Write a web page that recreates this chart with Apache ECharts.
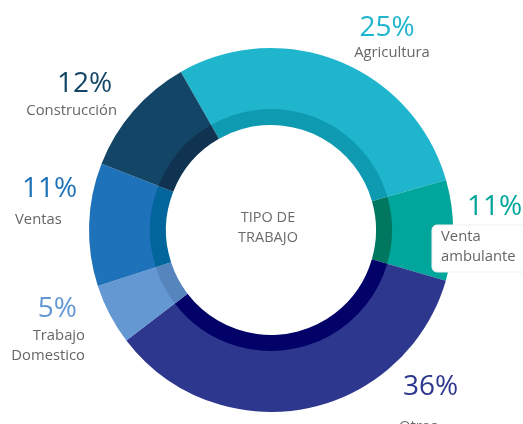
<!DOCTYPE html>
<html>
<head>
<meta charset="utf-8">
<script src="https://cdn.jsdelivr.net/npm/echarts@6/dist/echarts.min.js"></script>
<style>
html,body{margin:0;padding:0;background:#fff;}
#chart{width:523px;height:424px;}
</style>
</head>
<body>
<div id="chart"></div>
<script>
// Categories in clockwise drawing order (starting with Agricultura)
var categories = ['Agricultura', 'Venta ambulante', 'Otros', 'Trabajo Domestico', 'Ventas', 'Construcción'];
// Printed percentage labels
var percentLabels = ['25%', '11%', '36%', '5%', '11%', '12%'];
// Arc shares as drawn in the picture (percent of the full ring)
var arcShares = [28.8, 8.9, 35.1, 5.4, 10.9, 10.8];
// Centre text
var centerLines = ['TIPO DE', 'TRABAJO'];

// Styling (kept separate from the data)
var outerColors = ['#1fb6cd', '#00a59b', '#2e378e', '#6498d3', '#1e72b9', '#134666'];
var innerColors = ['#0e9bb1', '#00775f', '#020268', '#5685be', '#02659c', '#0f3350'];
var nameColor = '#666666';
var FONT = 'Open Sans';

// Label layout: [pctX, pctY, pctAlign, nameX, nameY, nameAlign]
var labelLayout = [
  [387, 28, 'center', 392, 52.5, 'center'],
  [467, 207, 'left', 441, 237, 'left'],
  [403, 387, 'left', 399, 427, 'left'],
  [77, 309, 'right', 85, 336, 'right'],
  [22, 189, 'left', 15, 220, 'left'],
  [57, 84, 'left', 117, 111, 'right']
];

var chart = echarts.init(document.getElementById('chart'));

function pieData(colors) {
  return categories.map(function (c, i) {
    return { name: c, value: arcShares[i], itemStyle: { color: colors[i] } };
  });
}

var graphics = [];
// white box behind "Venta ambulante"
graphics.push({
  type: 'rect', z: 100,
  shape: { x: 432, y: 225, width: 110, height: 47, r: 5 },
  style: { fill: '#ffffff', stroke: '#f0f0f0', lineWidth: 1 }
});
categories.forEach(function (c, i) {
  var L = labelLayout[i];
  graphics.push({
    type: 'text', z: 110, x: L[0], y: L[1],
    style: {
      text: percentLabels[i], fill: outerColors[i],
      font: '28px "' + FONT + '"', align: L[2], verticalAlign: 'middle'
    }
  });
  var nameLines = (i === 1) ? ['Venta', 'ambulante'] : (i === 3 ? ['Trabajo', 'Domestico'] : [c]);
  nameLines.forEach(function (t, k) {
    graphics.push({
      type: 'text', z: 110, x: L[3], y: L[4] + k * 19.5,
      style: {
        text: t, fill: nameColor,
        font: '14.8px "' + FONT + '"', align: L[5], verticalAlign: 'middle'
      }
    });
  });
});
centerLines.forEach(function (t, k) {
  graphics.push({
    type: 'text', z: 110, x: 268, y: 218 + k * 20,
    style: {
      text: t, fill: '#6b6b6b',
      font: '14.5px "' + FONT + '"', align: 'center', verticalAlign: 'middle'
    }
  });
});

chart.setOption({
  animation: false,
  backgroundColor: '#ffffff',
  series: [
    {
      type: 'pie', center: [271, 230], radius: [120, 182],
      startAngle: 119.7, clockwise: true, silent: true,
      label: { show: false }, labelLine: { show: false },
      emphasis: { disabled: true },
      itemStyle: { borderWidth: 0 },
      data: pieData(outerColors)
    },
    {
      type: 'pie', center: [271, 230], radius: [105, 121],
      startAngle: 119.7, clockwise: true, silent: true,
      label: { show: false }, labelLine: { show: false },
      emphasis: { disabled: true },
      itemStyle: { borderWidth: 0 },
      data: pieData(innerColors)
    }
  ],
  graphic: graphics
});
</script>
</body>
</html>
